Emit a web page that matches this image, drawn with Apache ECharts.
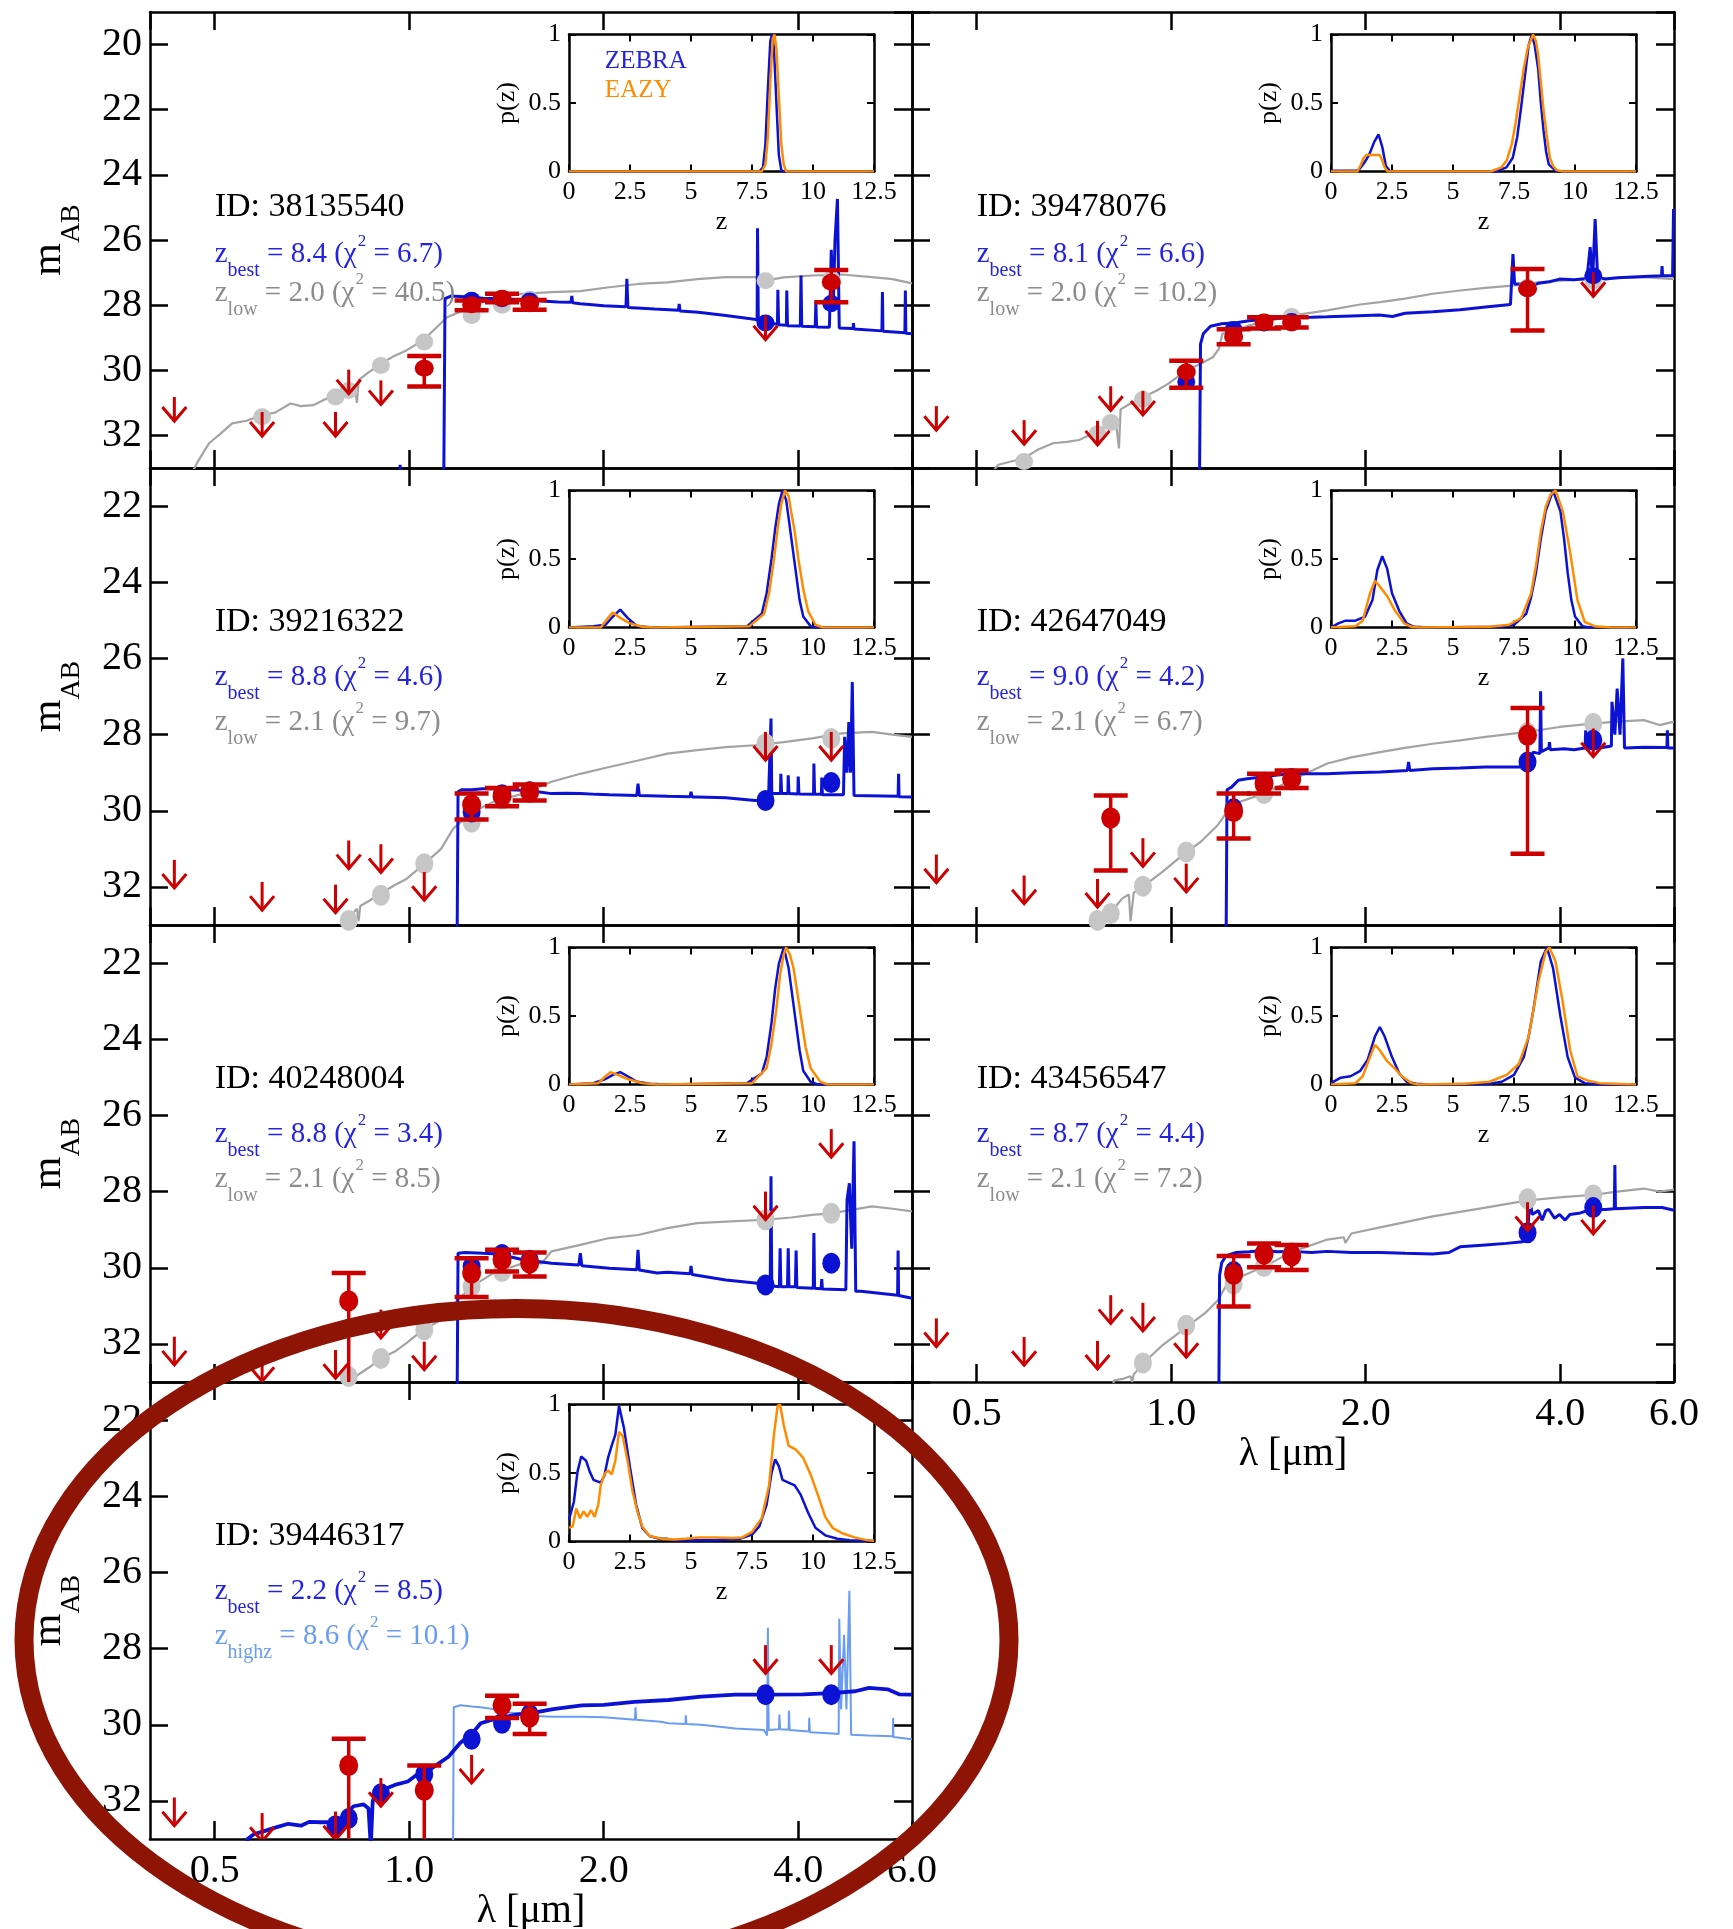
<!DOCTYPE html>
<html><head><meta charset="utf-8">
<script src="https://cdn.jsdelivr.net/npm/echarts@6/dist/echarts.min.js"></script>
<style>html,body{margin:0;padding:0;background:#fff}#c{width:1733px;height:1929px}</style>
</head><body><div id="c"></div>
<script>
// ---------------- DATA ----------------
const IDS = ['38135540','39478076','39216322','42647049','40248004','43456547','39446317'];
const Z_BEST = [['best','8.4','6.7'],['best','8.1','6.6'],['best','8.8','4.6'],['best','9.0','4.2'],['best','8.8','3.4'],['best','8.7','4.4'],['best','2.2','8.5']];
const Z_ALT = [['low','2.0','40.5'],['low','2.0','10.2'],['low','2.1','9.7'],['low','2.1','6.7'],['low','2.1','8.5'],['low','2.1','7.2'],['highz','8.6','10.1']];
const X_TICK_LABELS = ['0.5','1.0','2.0','4.0','6.0'];

// Panel 1
const p1_blue = [[0.40,34.5],[0.962,34.5],[0.968,32.9],[0.975,34.5],[1.130,34.5],[1.136,27.80],[1.16,27.72],[1.22,27.74],[1.30,27.79],[1.40,27.80],[1.50,27.84],[1.60,27.87],[1.70,27.90],[1.78,27.91],[1.785,27.72],[1.79,27.93],[1.84,27.96],[1.92,27.99],[2.00,28.02],[2.165,28.05],[2.172,27.19],[2.18,28.07],[2.40,28.12],[2.61,28.16],[2.617,27.96],[2.625,28.18],[2.80,28.22],[3.09,28.32],[3.42,28.43],[3.455,28.46],[3.46,25.64],[3.47,28.58],[3.55,28.62],[3.62,28.57],[3.715,28.58],[3.72,27.53],[3.73,28.6],[3.835,28.62],[3.84,27.55],[3.85,28.63],[4.03,28.64],[4.04,27.09],[4.05,28.65],[4.25,28.66],[4.26,27.9],[4.27,28.67],[4.47,28.68],[4.50,26.3],[4.53,28.2],[4.56,26.0],[4.60,24.74],[4.63,28.7],[4.865,28.72],[4.87,28.55],[4.88,28.73],[5.39,28.79],[5.40,27.6],[5.41,28.8],[5.85,28.85],[5.86,27.55],[5.87,28.86],[6.0,28.88]];
const p1_gray = [[0.455,33.4],[0.469,32.86],[0.49,32.24],[0.51,31.95],[0.532,31.63],[0.56,31.55],[0.59,31.38],[0.62,31.3],[0.655,31.02],[0.68,31.1],[0.71,31.07],[0.74,30.9],[0.769,30.71],[0.79,30.65],[0.805,30.56],[0.825,30.55],[0.83,31.0],[0.835,30.3],[0.86,30.1],[0.903,29.8],[0.95,29.55],[0.99,29.39],[1.05,29.08],[1.10,28.7],[1.144,28.37],[1.20,28.2],[1.25,28.06],[1.30,27.9],[1.35,27.8],[1.42,27.72],[1.50,27.65],[1.66,27.6],[1.84,27.57],[2.04,27.45],[2.26,27.35],[2.51,27.3],[2.79,27.2],[3.09,27.14],[3.43,27.14],[3.57,27.24],[3.8,27.15],[4.2,27.09],[4.67,27.06],[5.2,27.14],[5.6,27.2],[6.0,27.33]];
const p1_gdots = [[0.592,31.43],[0.769,30.82],[0.806,30.62],[0.904,29.85],[1.055,29.13],[1.249,28.32],[1.392,28.0],[1.536,27.82],[3.56,27.25],[4.50,27.2]];
const p1_bdots = [[1.249,27.85],[1.392,27.8],[1.536,27.87],[3.56,28.55],[4.50,27.95]];
const p1_obs = [[1.055,29.94,29.56,30.5],[1.249,27.99,27.86,28.16],[1.392,27.79,27.65,27.91],[1.536,27.96,27.84,28.14],[4.50,27.3,26.92,27.91]];
const p1_lim = [[0.433,30.82],[0.592,31.28],[0.769,31.28],[0.806,29.98],[0.904,30.31],[3.56,28.32]];
const p1_pz_zebra = [[0,0],[7.8,0],[7.95,0.03],[8.05,0.2],[8.15,0.6],[8.25,0.95],[8.32,1.0],[8.4,0.9],[8.5,0.5],[8.6,0.12],[8.7,0.01],[8.8,0],[12.5,0]];
const p1_pz_eazy = [[0,0],[7.9,0],[8.05,0.05],[8.15,0.25],[8.25,0.65],[8.35,0.97],[8.42,1.0],[8.5,0.9],[8.6,0.55],[8.7,0.2],[8.8,0.05],[8.9,0],[12.5,0]];

// Panel 2
const p2_blue = [[1.08,34.5],[1.105,34.5],[1.11,29.2],[1.121,28.88],[1.15,28.65],[1.197,28.57],[1.26,28.54],[1.32,28.48],[1.39,28.43],[1.46,28.40],[1.535,28.38],[1.65,28.37],[1.744,28.36],[1.9,28.33],[2.1,28.3],[2.2,28.35],[2.3,28.25],[2.54,28.2],[2.8,28.14],[3.065,28.06],[3.35,27.98],[3.37,27.98],[3.38,26.43],[3.40,27.35],[3.48,27.35],[3.563,27.45],[3.70,27.33],[3.85,27.28],[3.99,27.2],[4.2,27.22],[4.40,27.18],[4.45,26.22],[4.49,27.2],[4.53,25.36],[4.57,27.15],[4.7,27.2],[4.90,27.16],[5.39,27.12],[5.74,27.1],[5.75,26.8],[5.76,27.1],[5.97,27.1],[5.99,25.05],[6.0,25.05]];
const p2_gray = [[0.52,33.3],[0.54,32.9],[0.565,32.8],[0.592,32.7],[0.62,32.45],[0.656,32.24],[0.69,32.2],[0.72,32.14],[0.745,32.0],[0.77,31.94],[0.79,31.7],[0.807,31.43],[0.82,31.5],[0.83,32.4],[0.835,31.2],[0.86,31.05],[0.906,30.82],[0.95,30.62],[0.99,30.41],[1.056,30.0],[1.11,29.8],[1.16,29.6],[1.185,29.34],[1.20,28.88],[1.255,28.78],[1.32,28.62],[1.392,28.52],[1.535,28.32],[1.744,28.16],[1.96,27.98],[2.105,27.91],[2.3,27.8],[2.54,27.65],[2.8,27.55],[3.065,27.47],[3.37,27.4],[3.70,27.3],[4.0,27.25],[4.48,27.2],[5.0,27.16],[5.39,27.14],[6.0,27.2]];
const p2_gdots = [[0.592,32.8],[0.769,31.95],[0.806,31.6],[0.904,30.9],[1.055,30.1],[1.249,28.8],[1.392,28.55],[1.536,28.35],[3.56,27.45],[4.50,27.25]];
const p2_bdots = [[1.055,30.35],[1.249,28.75],[1.392,28.55],[1.536,28.5],[3.56,27.5],[4.50,27.1]];
const p2_obs = [[1.055,30.05,29.71,30.54],[1.249,28.98,28.74,29.2],[1.392,28.52,28.37,28.72],[1.536,28.55,28.37,28.69],[3.56,27.5,26.89,28.78]];
const p2_lim = [[0.433,31.1],[0.592,31.53],[0.769,31.55],[0.806,30.49],[0.904,30.63],[4.50,26.99]];
const p2_pz_zebra = [[0,0.005],[1.0,0.005],[1.13,0.01],[1.35,0.06],[1.56,0.12],[1.78,0.22],[1.95,0.27],[2.1,0.18],[2.25,0.04],[2.43,0],[6.76,0],[7.19,0.03],[7.45,0.1],[7.63,0.25],[7.8,0.48],[7.95,0.7],[8.1,0.92],[8.23,1.0],[8.35,0.92],[8.49,0.75],[8.6,0.5],[8.71,0.3],[8.82,0.14],[8.93,0.05],[9.25,0],[12.5,0]];
const p2_pz_eazy = [[0,0],[1.08,0],[1.2,0.04],[1.34,0.1],[1.45,0.12],[1.7,0.12],[2.0,0.12],[2.1,0.08],[2.2,0.03],[2.32,0],[6.54,0],[6.98,0.03],[7.2,0.08],[7.41,0.2],[7.57,0.36],[7.73,0.55],[7.9,0.75],[8.06,0.9],[8.28,1.0],[8.4,0.95],[8.49,0.85],[8.6,0.65],[8.71,0.45],[8.85,0.25],[8.97,0.1],[9.1,0.04],[9.25,0.01],[9.5,0],[12.5,0]];

// Panel 3
const p3_blue = [[1.15,34.5],[1.185,34.5],[1.19,29.5],[1.205,29.45],[1.25,29.45],[1.30,29.42],[1.35,29.42],[1.42,29.45],[1.50,29.46],[1.58,29.5],[1.66,29.55],[1.75,29.54],[1.84,29.55],[1.95,29.57],[2.04,29.58],[2.25,29.6],[2.26,29.29],[2.27,29.6],[2.51,29.62],[2.72,29.63],[2.73,29.5],[2.74,29.64],[2.79,29.64],[3.09,29.66],[3.43,29.73],[3.56,29.72],[3.60,29.55],[3.625,29.55],[3.63,27.58],[3.64,29.55],[3.755,29.55],[3.76,29.03],[3.77,29.55],[3.855,29.55],[3.86,29.07],[3.87,29.55],[3.995,29.56],[4.0,29.1],[4.01,29.56],[4.225,29.57],[4.23,28.76],[4.24,29.57],[4.345,29.57],[4.35,29.13],[4.36,29.58],[4.70,29.58],[4.72,28.06],[4.76,29.0],[4.79,27.67],[4.82,29.0],[4.85,26.62],[4.88,29.6],[5.71,29.62],[5.72,29.03],[5.73,29.63],[6.0,29.64]];
const p3_gray = [[0.785,33.3],[0.795,32.95],[0.805,32.84],[0.83,32.57],[0.835,32.9],[0.84,32.5],[0.87,32.35],[0.903,32.18],[0.95,31.95],[0.99,31.79],[1.05,31.43],[1.12,31.0],[1.17,30.47],[1.22,30.2],[1.25,30.03],[1.35,29.77],[1.50,29.55],[1.66,29.24],[1.84,29.03],[2.04,28.85],[2.26,28.68],[2.51,28.5],[2.79,28.41],[3.09,28.33],[3.43,28.28],[3.8,28.2],[4.2,28.1],[4.67,27.97],[5.2,27.93],[5.6,28.0],[6.0,28.06]];
const p3_gdots = [[0.806,32.88],[0.904,32.22],[1.055,31.39],[1.249,30.3],[1.392,29.7],[1.536,29.5],[3.56,28.24],[4.50,28.1]];
const p3_bdots = [[1.249,30.03],[1.392,29.58],[1.536,29.5],[3.56,29.73],[4.50,29.26]];
const p3_obs = [[1.249,29.84,29.55,30.23],[1.392,29.61,29.4,29.88],[1.536,29.51,29.31,29.73]];
const p3_lim = [[0.433,31.29],[0.592,31.87],[0.769,31.94],[0.806,30.78],[0.904,30.88],[1.055,31.61],[3.56,27.93],[4.50,27.93]];
const p3_pz_zebra = [[0,0],[1.0,0.01],[1.5,0.02],[1.8,0.08],[2.1,0.13],[2.4,0.07],[2.8,0.01],[3.5,0],[7.3,0.01],[7.9,0.1],[8.1,0.25],[8.3,0.5],[8.45,0.72],[8.6,0.9],[8.75,1.0],[8.9,0.93],[9.0,0.8],[9.15,0.6],[9.3,0.4],[9.45,0.2],[9.6,0.08],[9.9,0.01],[10.2,0],[12.5,0]];
const p3_pz_eazy = [[0,0],[1.3,0],[1.6,0.07],[1.8,0.11],[2.1,0.07],[2.5,0.03],[3.0,0.005],[3.5,0],[7.4,0.01],[8.0,0.1],[8.2,0.25],[8.4,0.5],[8.55,0.72],[8.7,0.9],[8.85,1.0],[9.0,0.96],[9.1,0.85],[9.25,0.7],[9.4,0.5],[9.6,0.28],[9.8,0.12],[10.1,0.02],[10.4,0],[12.5,0]];

// Panel 4
const p4_blue = [[1.18,34.5],[1.215,34.5],[1.22,29.45],[1.24,29.38],[1.27,29.2],[1.31,29.16],[1.392,29.11],[1.46,29.06],[1.535,29.03],[1.744,29.03],[1.9,29.0],[2.105,28.98],[2.32,28.94],[2.33,28.72],[2.34,28.94],[2.54,28.9],[2.8,28.88],[3.065,28.85],[3.50,28.85],[3.58,28.8],[3.63,28.46],[3.72,28.5],[3.73,26.86],[3.74,28.45],[3.84,28.35],[3.85,28.2],[3.86,28.4],[4.06,28.37],[4.2,28.4],[4.37,28.35],[4.38,27.89],[4.39,28.35],[4.6,28.35],[4.80,28.3],[4.81,27.14],[4.86,28.0],[4.90,26.79],[4.95,28.0],[5.0,26.0],[5.03,28.35],[5.39,28.33],[5.85,28.34],[5.86,27.89],[5.87,28.35],[6.0,28.35]];
const p4_gray = [[0.74,33.3],[0.755,32.9],[0.77,32.7],[0.807,32.66],[0.84,32.3],[0.86,32.2],[0.865,32.9],[0.875,32.15],[0.906,31.98],[0.97,31.6],[1.056,31.08],[1.11,30.82],[1.18,30.38],[1.22,30.03],[1.255,29.81],[1.392,29.55],[1.535,29.2],[1.744,28.76],[1.9,28.6],[2.105,28.46],[2.3,28.35],[2.54,28.24],[2.8,28.15],[3.065,28.06],[3.563,27.93],[3.99,27.8],[4.48,27.71],[4.90,27.66],[5.39,27.62],[5.7,27.75],[6.0,27.66]];
const p4_gdots = [[0.769,32.88],[0.806,32.7],[0.904,31.98],[1.055,31.08],[1.249,29.95],[1.392,29.55],[1.536,29.2],[3.56,27.95],[4.50,27.71]];
const p4_bdots = [[1.249,29.95],[1.392,29.25],[1.536,29.15],[3.56,28.72],[4.50,28.15]];
const p4_obs = [[0.806,30.19,29.6,31.57],[1.249,30.02,29.55,30.73],[1.392,29.29,29.03,29.55],[1.536,29.17,28.94,29.4],[3.56,28.02,27.3,31.13]];
const p4_lim = [[0.433,31.15],[0.592,31.7],[0.769,31.79],[0.904,30.72],[1.055,31.39],[4.50,27.84]];
const p4_pz_zebra = [[0,0],[0.3,0.03],[0.6,0.05],[1.0,0.05],[1.4,0.08],[1.7,0.2],[1.9,0.42],[2.1,0.52],[2.3,0.43],[2.5,0.25],[2.8,0.12],[3.1,0.03],[3.4,0.005],[4.0,0],[7.0,0.005],[7.5,0.02],[8.0,0.1],[8.2,0.22],[8.4,0.4],[8.6,0.65],[8.8,0.85],[9.1,1.0],[9.4,0.85],[9.55,0.65],[9.7,0.4],[9.85,0.2],[10.0,0.08],[10.3,0.01],[10.6,0],[12.5,0]];
const p4_pz_eazy = [[0,0],[0.5,0.005],[1.0,0.01],[1.3,0.05],[1.6,0.25],[1.8,0.34],[2.0,0.3],[2.3,0.23],[2.6,0.13],[3.0,0.03],[3.3,0.005],[3.6,0],[6.5,0.005],[7.3,0.02],[7.8,0.07],[8.2,0.25],[8.4,0.45],[8.6,0.7],[8.8,0.88],[9.0,0.97],[9.2,1.0],[9.5,0.85],[9.8,0.55],[10.1,0.2],[10.4,0.04],[10.8,0.01],[11.5,0],[12.5,0]];

// Panel 5
const p5_blue = [[1.15,34.5],[1.185,34.5],[1.19,29.62],[1.22,29.6],[1.30,29.62],[1.35,29.63],[1.42,29.7],[1.50,29.79],[1.66,29.88],[1.80,29.92],[1.83,29.93],[1.84,29.62],[1.85,29.95],[2.04,30.01],[2.25,30.05],[2.26,29.53],[2.27,30.06],[2.42,30.14],[2.51,30.12],[2.72,30.16],[2.73,29.95],[2.74,30.18],[3.09,30.32],[3.43,30.4],[3.56,30.45],[3.62,30.48],[3.63,27.6],[3.64,30.48],[3.74,30.5],[3.75,29.49],[3.76,30.5],[3.85,30.5],[3.86,29.49],[3.87,30.5],[3.96,30.5],[3.97,29.55],[3.98,30.52],[4.22,30.54],[4.23,29.09],[4.24,30.54],[4.34,30.55],[4.35,30.3],[4.36,30.56],[4.74,30.58],[4.76,28.22],[4.80,27.78],[4.84,29.5],[4.88,26.68],[4.91,30.62],[5.0,30.62],[5.70,30.72],[5.71,29.55],[5.72,30.73],[6.0,30.8]];
const p5_gray = [[0.80,33.3],[0.81,32.95],[0.84,32.77],[0.87,32.6],[0.903,32.38],[0.95,32.2],[0.99,31.98],[1.05,31.63],[1.12,31.37],[1.19,30.84],[1.25,30.49],[1.35,30.14],[1.50,29.88],[1.58,29.8],[1.60,29.9],[1.66,29.57],[1.84,29.4],[2.04,29.22],[2.26,29.14],[2.51,28.96],[2.79,28.83],[3.09,28.79],[3.56,28.74],[3.9,28.68],[4.2,28.61],[4.5,28.57],[5.2,28.39],[5.6,28.45],[6.0,28.52]];
const p5_gdots = [[0.806,32.86],[0.904,32.38],[1.055,31.63],[1.249,30.49],[1.392,30.1],[1.536,29.88],[3.56,28.74],[4.50,28.57]];
const p5_bdots = [[1.249,29.97],[1.392,29.65],[1.536,29.8],[3.56,30.45],[4.50,29.88]];
const p5_obs = [[0.806,30.87,30.14,33.5],[1.249,30.14,29.75,30.77],[1.392,29.79,29.53,30.1],[1.536,29.88,29.6,30.23]];
const p5_lim = [[0.433,31.81],[0.592,32.24],[0.769,32.16],[0.904,31.1],[1.055,31.94],[3.56,28.0],[4.50,26.36]];
const p5_pz_zebra = [[0,0],[1.0,0.01],[1.5,0.04],[1.8,0.07],[2.1,0.09],[2.4,0.06],[2.8,0.02],[3.3,0.005],[4.0,0],[7.3,0.01],[7.9,0.08],[8.1,0.2],[8.3,0.45],[8.45,0.7],[8.6,0.88],[8.8,1.0],[9.0,0.85],[9.15,0.65],[9.3,0.45],[9.45,0.25],[9.6,0.1],[9.9,0.02],[10.2,0],[12.5,0]];
const p5_pz_eazy = [[0,0],[1.2,0.01],[1.5,0.06],[1.7,0.09],[2.0,0.07],[2.4,0.04],[3.0,0.01],[3.6,0],[7.5,0.01],[8.1,0.12],[8.3,0.3],[8.5,0.55],[8.65,0.8],[8.8,0.95],[8.9,1.0],[9.05,0.95],[9.2,0.85],[9.35,0.68],[9.5,0.5],[9.7,0.27],[9.9,0.12],[10.3,0.02],[10.6,0],[12.5,0]];

// Panel 6
const p6_blue = [[1.16,34.5],[1.184,34.5],[1.188,30.2],[1.197,29.87],[1.215,29.69],[1.26,29.6],[1.32,29.58],[1.392,29.55],[1.46,29.58],[1.535,29.57],[1.65,29.6],[1.744,29.57],[1.9,29.6],[2.105,29.6],[2.3,29.62],[2.54,29.64],[2.69,29.6],[2.8,29.45],[3.065,29.4],[3.3,29.36],[3.5,29.32],[3.56,29.12],[3.59,28.19],[3.62,28.6],[3.70,28.5],[3.75,28.75],[3.80,28.5],[3.84,28.47],[3.92,28.7],[3.99,28.6],[4.07,28.75],[4.14,28.6],[4.30,28.56],[4.46,28.47],[4.70,28.47],[4.85,28.45],[4.86,27.3],[4.87,28.45],[5.39,28.42],[5.75,28.42],[6.0,28.49]];
const p6_gray = [[0.81,33.3],[0.815,32.96],[0.84,32.92],[0.865,32.85],[0.87,33.0],[0.875,32.8],[0.906,32.5],[0.97,32.03],[1.056,31.56],[1.13,31.18],[1.18,30.86],[1.22,30.43],[1.255,30.3],[1.392,29.97],[1.535,29.59],[1.744,29.26],[1.85,29.2],[1.86,29.35],[1.9,29.1],[2.105,28.94],[2.54,28.65],[3.065,28.42],[3.563,28.23],[4.07,28.14],[4.48,28.09],[4.90,28.0],[5.39,27.92],[5.7,28.0],[6.0,27.95]];
const p6_gdots = [[0.904,32.5],[1.055,31.51],[1.249,30.43],[1.392,29.97],[1.536,29.6],[3.56,28.19],[4.50,28.09]];
const p6_bdots = [[1.249,30.1],[1.392,29.62],[1.536,29.66],[3.56,29.08],[4.50,28.42]];
const p6_obs = [[1.249,30.17,29.69,31.02],[1.392,29.64,29.36,29.99],[1.536,29.69,29.4,30.06]];
const p6_lim = [[0.433,31.33],[0.592,31.82],[0.769,31.92],[0.806,30.72],[0.904,30.92],[1.055,31.61],[3.56,28.28],[4.50,28.37]];
const p6_pz_zebra = [[0,0.01],[0.4,0.05],[0.8,0.06],[1.2,0.1],[1.5,0.18],[1.8,0.35],[2.0,0.42],[2.2,0.35],[2.5,0.2],[2.8,0.08],[3.1,0.02],[3.5,0.005],[4.0,0],[6.5,0.005],[7.0,0.02],[7.5,0.07],[7.9,0.2],[8.1,0.35],[8.3,0.55],[8.6,0.9],[8.85,1.0],[9.1,0.85],[9.4,0.5],[9.7,0.2],[10.0,0.05],[10.4,0.01],[11.0,0],[12.5,0]];
const p6_pz_eazy = [[0,0],[1.0,0.01],[1.3,0.06],[1.6,0.2],[1.8,0.29],[2.0,0.25],[2.3,0.17],[2.6,0.12],[2.9,0.06],[3.3,0.01],[3.6,0],[5.5,0.005],[6.5,0.02],[7.2,0.07],[7.7,0.15],[8.1,0.35],[8.3,0.55],[8.5,0.75],[8.8,0.97],[8.95,1.0],[9.2,0.9],[9.5,0.6],[9.8,0.25],[10.1,0.06],[10.5,0.03],[11.0,0.01],[12.5,0]];

// Panel 7
const p7_blue = [[0.555,33.3],[0.562,33.0],[0.574,32.88],[0.60,32.78],[0.62,32.7],[0.65,32.6],[0.68,32.65],[0.70,32.55],[0.73,32.56],[0.765,32.56],[0.79,32.42],[0.82,32.14],[0.85,32.09],[0.865,32.2],[0.872,33.2],[0.878,32.0],[0.89,31.77],[0.95,31.58],[0.995,31.49],[1.03,31.3],[1.08,31.16],[1.15,30.84],[1.20,30.47],[1.25,30.24],[1.29,29.96],[1.35,29.86],[1.39,29.82],[1.47,29.73],[1.56,29.68],[1.67,29.59],[1.85,29.49],[2.0,29.48],[2.23,29.4],[2.52,29.35],[2.83,29.26],[3.20,29.21],[3.55,29.21],[4.07,29.2],[4.50,29.17],[4.90,29.12],[5.15,29.03],[5.5,29.07],[5.73,29.2],[6.0,29.21]];
const p7_highz = [[1.15,34.5],[1.168,34.5],[1.172,29.54],[1.20,29.49],[1.25,29.52],[1.29,29.54],[1.35,29.59],[1.40,29.67],[1.47,29.7],[1.56,29.77],[1.67,29.79],[1.85,29.79],[2.0,29.8],[2.235,29.87],[2.24,29.54],[2.245,29.87],[2.45,29.92],[2.52,29.96],[2.675,29.98],[2.68,29.75],[2.685,29.98],[2.83,30.0],[3.20,30.1],[3.54,30.14],[3.58,30.28],[3.59,27.45],[3.60,30.14],[3.735,30.12],[3.74,29.73],[3.75,30.12],[3.865,30.13],[3.87,29.63],[3.88,30.14],[4.155,30.18],[4.16,29.82],[4.17,30.2],[4.45,30.22],[4.62,30.24],[4.63,27.22],[4.66,29.6],[4.71,27.64],[4.75,29.6],[4.80,26.48],[4.83,30.26],[5.15,30.28],[5.605,30.3],[5.61,29.82],[5.615,30.32],[6.0,30.38]];
const p7_bdots = [[0.769,32.65],[0.806,32.46],[0.904,31.81],[1.055,31.3],[1.249,30.38],[1.392,29.96],[1.536,29.73],[3.56,29.21],[4.50,29.21]];
const p7_obs = [[0.806,31.07,30.37,33.5],[1.055,31.72,31.07,33.5],[1.392,29.49,29.24,29.82],[1.536,29.8,29.45,30.24]];
const p7_lim = [[0.433,31.91],[0.592,32.32],[0.769,32.28],[0.904,31.4],[1.249,30.79],[3.56,27.91],[4.50,27.91]];
const p7_pz_zebra = [[0,0.16],[0.2,0.29],[0.35,0.51],[0.5,0.62],[0.7,0.59],[0.85,0.51],[1.0,0.45],[1.3,0.43],[1.45,0.48],[1.6,0.61],[1.75,0.7],[1.9,0.78],[2.05,0.99],[2.1,1.0],[2.25,0.83],[2.5,0.54],[2.75,0.27],[3.0,0.1],[3.3,0.04],[3.7,0.02],[4.0,0.02],[4.3,0.01],[5.0,0.01],[6.0,0.01],[7.0,0.02],[7.5,0.05],[7.8,0.11],[8.1,0.27],[8.3,0.5],[8.45,0.6],[8.6,0.55],[8.75,0.45],[9.0,0.43],[9.25,0.41],[9.5,0.34],[9.8,0.21],[10.1,0.1],[10.5,0.045],[11.0,0.02],[11.5,0.01],[12.5,0.005]];
const p7_pz_eazy = [[0,0.1],[0.15,0.11],[0.3,0.24],[0.45,0.17],[0.6,0.22],[0.75,0.18],[0.9,0.23],[1.05,0.18],[1.2,0.27],[1.3,0.41],[1.45,0.49],[1.6,0.52],[1.75,0.49],[1.9,0.59],[2.05,0.8],[2.2,0.77],[2.4,0.59],[2.6,0.37],[2.8,0.22],[3.0,0.11],[3.3,0.04],[3.8,0.02],[4.3,0.015],[4.8,0.02],[5.3,0.03],[6.0,0.03],[6.7,0.025],[7.1,0.03],[7.5,0.07],[7.9,0.17],[8.2,0.41],[8.4,0.78],[8.55,0.99],[8.65,1.0],[8.8,0.85],[9.0,0.7],[9.3,0.67],[9.6,0.61],[9.9,0.49],[10.2,0.34],[10.5,0.18],[10.8,0.1],[11.2,0.06],[11.7,0.03],[12.2,0.01],[12.5,0.005]];

// ---------------- STYLE / LAYOUT ----------------
const FONT = "'Liberation Serif','Times New Roman',Times,serif";
const C_BLUE = '#0b12d4', C_TBLUE = '#2424e0', C_GRAY = '#a3a3a3', C_GDOT = '#c6c6c6', C_GTXT = '#8c8c8c';
const C_RED = '#cc0000', C_ORANGE = '#ff8c00', C_LBLUE = '#6a9cf0', C_ELL = '#8e1506';
const W = 762, ARROW_LEN = 0.74;
const LAYOUT = [
  {x:150, y:12, h:456, ymin:19, ylab:true,  xlab:false, dotH:17, bw:3},
  {x:912, y:12, h:456, ymin:19, ylab:false, xlab:false, dotH:17, bw:3},
  {x:150, y:468, h:457, ymin:21, ylab:true,  xlab:false, dotH:21, bw:3},
  {x:912, y:468, h:457, ymin:21, ylab:false, xlab:false, dotH:21, bw:3},
  {x:150, y:925, h:457, ymin:21, ylab:true,  xlab:false, dotH:21, bw:3},
  {x:912, y:925, h:457, ymin:21, ylab:false, xlab:true,  dotH:21, bw:3},
  {x:150, y:1382, h:457, ymin:21, ylab:true, xlab:true,  dotH:21, bw:3.8}
];
const PANELS = [
  {blue:p1_blue, gray:p1_gray, gdots:p1_gdots, bdots:p1_bdots, obs:p1_obs, lim:p1_lim, zebra:p1_pz_zebra, eazy:p1_pz_eazy},
  {blue:p2_blue, gray:p2_gray, gdots:p2_gdots, bdots:p2_bdots, obs:p2_obs, lim:p2_lim, zebra:p2_pz_zebra, eazy:p2_pz_eazy},
  {blue:p3_blue, gray:p3_gray, gdots:p3_gdots, bdots:p3_bdots, obs:p3_obs, lim:p3_lim, zebra:p3_pz_zebra, eazy:p3_pz_eazy},
  {blue:p4_blue, gray:p4_gray, gdots:p4_gdots, bdots:p4_bdots, obs:p4_obs, lim:p4_lim, zebra:p4_pz_zebra, eazy:p4_pz_eazy},
  {blue:p5_blue, gray:p5_gray, gdots:p5_gdots, bdots:p5_bdots, obs:p5_obs, lim:p5_lim, zebra:p5_pz_zebra, eazy:p5_pz_eazy},
  {blue:p6_blue, gray:p6_gray, gdots:p6_gdots, bdots:p6_bdots, obs:p6_obs, lim:p6_lim, zebra:p6_pz_zebra, eazy:p6_pz_eazy},
  {blue:p7_blue, highz:p7_highz, gray:null, gdots:null, bdots:p7_bdots, obs:p7_obs, lim:p7_lim, zebra:p7_pz_zebra, eazy:p7_pz_eazy}
];
const TEXT_ANCHORS = [[0.5,25.33],[0.5,26.73],[0.5,27.92]];

const chart = echarts.init(document.getElementById('c'), null, {renderer:'canvas', width:1733, height:1929});

const grids = [], xAxes = [], yAxes = [], series = [];
const axLine = {show:true, onZero:false, lineStyle:{color:'#000', width:2.5}};

function mainX(g, pos, lab) {
  return {type:'log', logBase:2, min:0.397, max:6.0, gridIndex:g, position:pos,
    axisLine:axLine,
    axisTick:{show:true, inside:true, length:18, lineStyle:{color:'#000', width:2.5}},
    minorTick:{show:false}, splitLine:{show:false}, minorSplitLine:{show:false},
    axisLabel:{show:lab, margin:12, fontFamily:FONT, fontSize:40, color:'#000', showMinLabel:false, showMaxLabel:true,
      formatter: v => { const i = [0.5,1,2,4,6].findIndex(t => Math.abs(t - v) < 0.02); return i >= 0 ? X_TICK_LABELS[i] : ''; }},
    name: lab ? 'λ [μm]' : '', nameLocation:'middle', nameGap:52,
    nameTextStyle:{fontFamily:FONT, fontSize:40, color:'#000'}};
}
function mainY(g, pos, L) {
  const lab = pos === 'left' && L.ylab;
  return {type:'value', inverse:true, min:L.ymin, max:33, splitNumber:(33 - L.ymin) / 2, gridIndex:g, position:pos,
    axisLine:axLine,
    axisTick:{show:true, inside:true, length:18, lineStyle:{color:'#000', width:2.5}},
    splitLine:{show:false},
    axisLabel:{show:lab, margin:8, fontFamily:FONT, fontSize:40, color:'#000', showMinLabel:false, showMaxLabel:false},
    name: lab ? '{m|m}{s|AB}' : '', nameLocation:'middle', nameGap:64, nameRotate:90,
    nameTextStyle:{fontFamily:FONT, color:'#000', rich:{
      m:{fontFamily:FONT, fontSize:42, height:42, verticalAlign:'top', color:'#000'},
      s:{fontFamily:FONT, fontSize:28, height:28, padding:[30,0,0,0], verticalAlign:'top', color:'#000'}}}};
}
function insetX(g, pos, lab) {
  return {type:'value', min:0, max:12.5, interval:2.5, gridIndex:g, position:pos,
    axisLine:{show:true, onZero:false, lineStyle:{color:'#000', width:2.5}},
    axisTick:{show:true, inside:true, length:7, lineStyle:{color:'#000', width:2}},
    splitLine:{show:false},
    axisLabel:{show:lab, margin:8, fontFamily:FONT, fontSize:26, color:'#000'},
    name: lab ? 'z' : '', nameLocation:'middle', nameGap:38,
    nameTextStyle:{fontFamily:FONT, fontSize:26, color:'#000'}};
}
function insetY(g, pos, lab) {
  return {type:'value', min:0, max:1, interval:0.5, gridIndex:g, position:pos,
    axisLine:{show:true, onZero:false, lineStyle:{color:'#000', width:2.5}},
    axisTick:{show:true, inside:true, length:7, lineStyle:{color:'#000', width:2}},
    splitLine:{show:false},
    axisLabel:{show:lab, margin:8, fontFamily:FONT, fontSize:26, color:'#000'},
    name: lab ? 'p(z)' : '', nameLocation:'middle', nameGap:49, nameRotate:90,
    nameTextStyle:{fontFamily:FONT, fontSize:26, color:'#000'}};
}

function renderErr(params, api) {
  const x = api.value(0), lo = api.value(2), hi = api.value(3);
  const a = api.coord([x, lo]), b = api.coord([x, hi]);
  const cw = 17;
  return {type:'group', children:[
    {type:'line', shape:{x1:a[0], y1:a[1], x2:b[0], y2:b[1]}, style:{stroke:C_RED, lineWidth:3.5}},
    {type:'line', shape:{x1:a[0]-cw, y1:a[1], x2:a[0]+cw, y2:a[1]}, style:{stroke:C_RED, lineWidth:4.5}},
    {type:'line', shape:{x1:b[0]-cw, y1:b[1], x2:b[0]+cw, y2:b[1]}, style:{stroke:C_RED, lineWidth:4.5}}
  ]};
}
function renderArrow(params, api) {
  const x = api.value(0), m = api.value(1);
  const a = api.coord([x, m]), b = api.coord([x, m + ARROW_LEN]);
  return {type:'group', children:[
    {type:'line', shape:{x1:a[0], y1:a[1], x2:b[0], y2:b[1]}, style:{stroke:C_RED, lineWidth:3}},
    {type:'polyline', shape:{points:[[b[0]-12, b[1]-14],[b[0], b[1]],[b[0]+12, b[1]-14]]}, style:{stroke:C_RED, lineWidth:3, fill:null}}
  ]};
}
function zLine(x, yBase, parts, color) {
  const t = '{m|z}{s|' + parts[0] + '}{m| = ' + parts[1] + ' (χ}{u|2}{m| = ' + parts[2] + ')}';
  return {type:'text', x:x, y:yBase - 31.2, style:{text:t, align:'left', verticalAlign:'top', fill:color,
    rich:{
      m:{fontFamily:FONT, fontSize:29, height:29, padding:[7.4,0,0,0], verticalAlign:'top', fill:color},
      s:{fontFamily:FONT, fontSize:20, height:20, padding:[28.4,0,0,0], verticalAlign:'top', fill:color},
      u:{fontFamily:FONT, fontSize:17, height:17, padding:[0,0,0,1], verticalAlign:'top', fill:color}
    }}};
}
function makeTextRender(i) {
  return function(params, api) {
    const p = api.coord([api.value(0), api.value(1)]);
    const k = params.dataIndex;
    if (k === 0) {
      return {type:'text', x:p[0], y:p[1] - 11, style:{text:'ID: ' + IDS[i], fontFamily:FONT, fontSize:34, fill:'#000', align:'left', verticalAlign:'middle'}};
    }
    if (k === 1) return zLine(p[0], p[1], Z_BEST[i], C_TBLUE);
    return zLine(p[0], p[1], Z_ALT[i], i === 6 ? C_LBLUE : C_GTXT);
  };
}

LAYOUT.forEach((L, i) => {
  const P = PANELS[i];
  const mg = grids.length;
  grids.push({left:L.x, top:L.y, width:W, height:L.h, containLabel:false, outerBoundsMode:'none'});
  const ig = grids.length;
  grids.push({left:L.x + 419, top:L.y + 22.5, width:305, height:137, containLabel:false, outerBoundsMode:'none'});
  const xa = xAxes.length;
  xAxes.push(mainX(mg, 'bottom', L.xlab)); xAxes.push(mainX(mg, 'top', false));
  const xi = xAxes.length;
  xAxes.push(insetX(ig, 'bottom', true)); xAxes.push(insetX(ig, 'top', false));
  const ya = yAxes.length;
  yAxes.push(mainY(mg, 'left', L)); yAxes.push(mainY(mg, 'right', L));
  const yi = yAxes.length;
  yAxes.push(insetY(ig, 'left', true)); yAxes.push(insetY(ig, 'right', false));

  const base = {xAxisIndex:xa, yAxisIndex:ya, animation:false, silent:true};
  const dot = (c) => ({color:c, opacity:1});
  if (P.gray) series.push(Object.assign({type:'line', data:P.gray, symbol:'none', clip:true, lineStyle:{color:C_GRAY, width:2.2}, z:2}, base));
  if (P.highz) series.push(Object.assign({type:'line', data:P.highz, symbol:'none', clip:true, lineStyle:{color:C_LBLUE, width:2}, z:3}, base));
  series.push(Object.assign({type:'line', data:P.blue, symbol:'none', clip:true, lineStyle:{color:C_BLUE, width:L.bw}, z:4}, base));
  if (P.gdots) series.push(Object.assign({type:'scatter', data:P.gdots, symbol:'circle', symbolSize:[18, L.dotH], itemStyle:dot(C_GDOT), clip:true, z:5}, base));
  series.push(Object.assign({type:'scatter', data:P.bdots, symbol:'circle', symbolSize:[18, L.dotH], itemStyle:dot(C_BLUE), clip:true, z:6}, base));
  series.push(Object.assign({type:'custom', data:P.obs, encode:{x:0, y:1}, renderItem:renderErr, clip:true, z:7}, base));
  series.push(Object.assign({type:'scatter', data:P.obs.map(d => [d[0], d[1]]), symbol:'circle', symbolSize:[19, L.dotH], itemStyle:dot(C_RED), clip:true, z:8}, base));
  series.push(Object.assign({type:'custom', data:P.lim, encode:{x:0, y:1}, renderItem:renderArrow, clip:true, z:8}, base));
  series.push(Object.assign({type:'custom', data:TEXT_ANCHORS, encode:{x:0, y:1}, renderItem:makeTextRender(i), z:9}, base));

  const ibase = {xAxisIndex:xi, yAxisIndex:yi, animation:false, silent:true};
  series.push(Object.assign({type:'line', data:P.zebra, symbol:'none', clip:true, lineStyle:{color:C_BLUE, width:2.5}, z:3}, ibase));
  series.push(Object.assign({type:'line', data:P.eazy, symbol:'none', clip:true, lineStyle:{color:C_ORANGE, width:2.5}, z:4}, ibase));
  if (i === 0) {
    series.push(Object.assign({type:'custom', data:[[1.47, 0.80],[1.47, 0.59]], encode:{x:0, y:1}, z:5,
      renderItem:(params, api) => {
        const p = api.coord([api.value(0), api.value(1)]);
        const lbl = params.dataIndex === 0 ? 'ZEBRA' : 'EAZY';
        return {type:'text', x:p[0], y:p[1], style:{text:lbl, fontFamily:FONT, fontSize:25, fill:params.dataIndex === 0 ? C_TBLUE : C_ORANGE, align:'left', verticalAlign:'middle'}};
      }}, ibase));
  }
});

chart.setOption({
  animation:false,
  backgroundColor:'#ffffff',
  textStyle:{fontFamily:FONT},
  grid:grids, xAxis:xAxes, yAxis:yAxes, series:series,
  graphic:[{type:'ellipse', shape:{cx:516.5, cy:1640, rx:492.5, ry:331.5}, style:{fill:null, stroke:C_ELL, lineWidth:19}, z:100, silent:true}]
});
</script></body></html>
